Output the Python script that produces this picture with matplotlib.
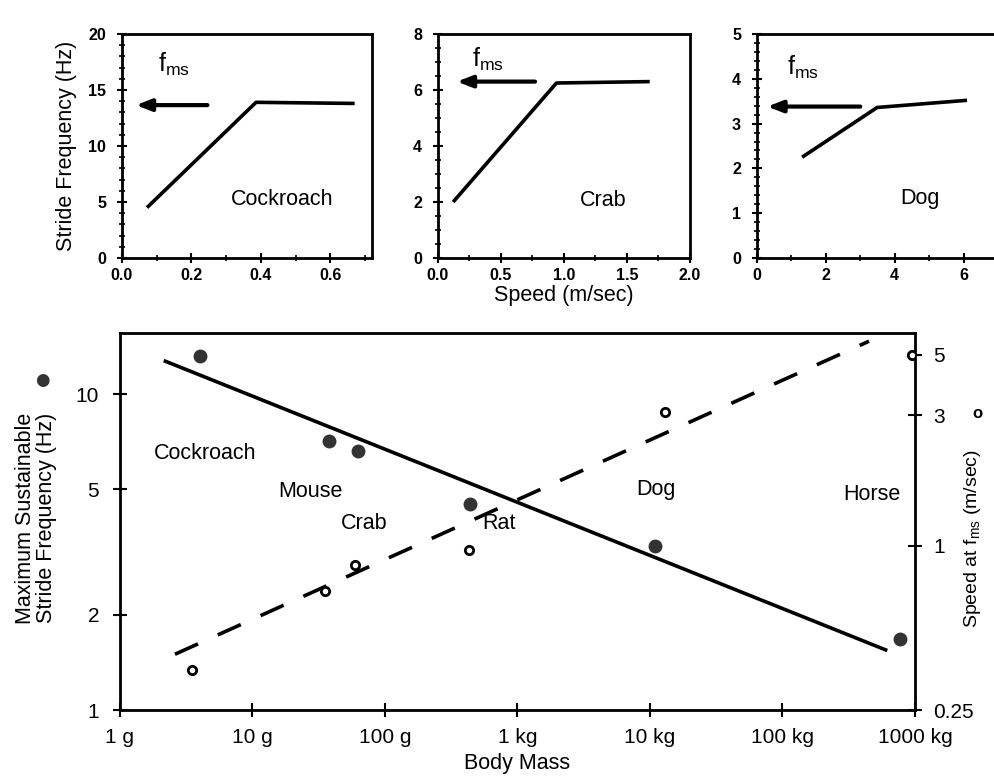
import numpy as np
import matplotlib.pyplot as plt
from matplotlib.ticker import FixedLocator, MultipleLocator, NullLocator, NullFormatter

plt.rcParams['font.family'] = ['Liberation Sans', 'DejaVu Sans']
plt.rcParams['mathtext.default'] = 'regular'

# top panels: stride frequency vs speed (piecewise lines)
roach_speed = [0.072, 0.386, 0.67]
roach_freq = [4.5, 13.9, 13.8]
roach_fms = 13.65

crab_speed = [0.12, 0.94, 1.68]
crab_freq = [2.0, 6.25, 6.3]
crab_fms = 6.3

dog_speed = [1.31, 3.49, 6.1]
dog_freq = [2.25, 3.36, 3.52]
dog_fms = 3.38

# bottom panel: body mass (g), max sustainable stride freq (Hz), speed at fms (m/s)
animals = ['Cockroach', 'Mouse', 'Crab', 'Rat', 'Dog', 'Horse']
mass_freq = [4.0, 38, 63, 435, 11000, 770000]
fms = [13.2, 7.1, 6.6, 4.5, 3.3, 1.68]
mass_speed = [3.5, 35, 59, 430, 13000, 950000]
speed = [0.35, 0.68, 0.85, 0.96, 3.08, 5.0]

# fitted lines (end points)
fit_freq_mass = [2.2, 600000]
fit_freq = [12.7, 1.55]
fit_speed_mass = [2.6, 450000]
fit_speed = [0.40, 5.6]

# label positions (mass, freq)
label_mass = [4.4, 27.5, 70, 720, 11000, 470000]
label_freq = [6.5, 4.9, 3.9, 3.9, 5.0, 4.8]

mass_ticks = [1, 10, 100, 1e3, 1e4, 1e5, 1e6]
mass_labels = ['1 g', '10 g', '100 g', '1 kg', '10 kg', '100 kg', '1000 kg']

W, H = 995, 784
fig = plt.figure(figsize=(W / 100, H / 100), dpi=100)


def px_axes(left, top, right, bottom):
    return fig.add_axes([left / W, 1 - bottom / H, (right - left) / W, (bottom - top) / H])


def style_top(ax):
    for s in ax.spines.values():
        s.set_linewidth(2)
    ax.tick_params(which='major', direction='inout', length=7, width=1.5, labelsize=11.5)
    ax.tick_params(which='minor', direction='inout', length=4, width=1.2)
    ax.tick_params(axis='y', pad=8)
    for lab in ax.get_xticklabels() + ax.get_yticklabels():
        lab.set_fontweight('bold')


def draw_top(ax, x, y, fms_val, xtail, xhead, name, name_pos, f_pos):
    ax.plot(x, y, color='black', lw=2.6, solid_capstyle='butt')
    ax.annotate('', xy=(xhead, fms_val), xytext=(xtail, fms_val),
                arrowprops=dict(arrowstyle='-|>,head_length=0.9,head_width=0.35',
                                color='black', lw=3, shrinkA=0, shrinkB=0))
    ax.text(name_pos[0], name_pos[1], name, fontsize=15.5, ha='center', va='center')
    ax.text(f_pos[0], f_pos[1], r'$f_{ms}$', fontsize=18, ha='center', va='center')


# panel 1: cockroach
ax1 = px_axes(122, 34, 372, 258)
ax1.set_xlim(0, 0.72)
ax1.set_ylim(0, 20)
ax1.xaxis.set_major_locator(FixedLocator([0.0, 0.2, 0.4, 0.6]))
ax1.xaxis.set_minor_locator(MultipleLocator(0.1))
ax1.yaxis.set_major_locator(MultipleLocator(5))
ax1.yaxis.set_minor_locator(MultipleLocator(1))
ax1.set_xticklabels(['0.0', '0.2', '0.4', '0.6'])
draw_top(ax1, roach_speed, roach_freq, roach_fms, 0.246, 0.04, 'Cockroach', (0.46, 5.2), (0.15, 17.3))
ax1.set_ylabel('Stride Frequency (Hz)', fontsize=15.5, labelpad=8)
style_top(ax1)

# panel 2: crab
ax2 = px_axes(438, 34, 690, 258)
ax2.set_xlim(0, 2.0)
ax2.set_ylim(0, 8)
ax2.xaxis.set_major_locator(MultipleLocator(0.5))
ax2.xaxis.set_minor_locator(MultipleLocator(0.25))
ax2.yaxis.set_major_locator(MultipleLocator(2))
ax2.yaxis.set_minor_locator(MultipleLocator(0.5))
draw_top(ax2, crab_speed, crab_freq, crab_fms, 0.77, 0.15, 'Crab', (1.31, 2.06), (0.40, 7.1))
ax2.set_xlabel('Speed (m/sec)', fontsize=15.5, labelpad=2)
style_top(ax2)

# panel 3: dog
ax3 = px_axes(757, 34, 998, 258)
ax3.set_xlim(0, 7)
ax3.set_ylim(0, 5)
ax3.xaxis.set_major_locator(MultipleLocator(2))
ax3.xaxis.set_minor_locator(MultipleLocator(1))
ax3.yaxis.set_major_locator(MultipleLocator(1))
ax3.yaxis.set_minor_locator(MultipleLocator(0.2))
draw_top(ax3, dog_speed, dog_freq, dog_fms, 3.0, 0.3, 'Dog', (4.74, 1.32), (1.34, 4.25))
style_top(ax3)

# bottom panel
ax = px_axes(120, 333, 915, 710)
ax.set_xscale('log')
ax.set_yscale('log')
ax.set_xlim(1, 1e6)
ax.set_ylim(1, 15.6)
ax.xaxis.set_major_locator(FixedLocator(mass_ticks))
ax.xaxis.set_minor_locator(NullLocator())
ax.set_xticklabels(mass_labels)
ax.yaxis.set_major_locator(FixedLocator([1, 2, 5, 10]))
ax.yaxis.set_minor_locator(NullLocator())
ax.yaxis.set_minor_formatter(NullFormatter())
ax.set_yticklabels(['1', '2', '5', '10'])
for s in ax.spines.values():
    s.set_linewidth(2)
ax.tick_params(direction='inout', length=10, width=1.5, labelsize=15, pad=10)
ax.tick_params(axis='x', pad=8)

ax.plot(fit_freq_mass, fit_freq, color='black', lw=2.6)
ax.plot(mass_freq, fms, 'o', color='#333333', ms=9)
for name, mx, fy in zip(animals, label_mass, label_freq):
    ax.text(mx, fy, name, fontsize=15.5, ha='center', va='center')
ax.set_xlabel('Body Mass', fontsize=15.5, labelpad=4)

axr = ax.twinx()
axr.set_yscale('log')
axr.set_ylim(0.25, 6)
axr.yaxis.set_major_locator(FixedLocator([0.25, 1, 3, 5]))
axr.yaxis.set_minor_locator(NullLocator())
axr.yaxis.set_minor_formatter(NullFormatter())
axr.set_yticklabels(['0.25', '1', '3', '5'])
axr.tick_params(direction='inout', length=10, width=1.5, labelsize=15, pad=8)
axr.plot(fit_speed_mass, fit_speed, color='black', lw=2.6, dashes=(7, 6))
axr.plot(mass_speed, speed, 'o', mfc='white', mec='black', mew=2, ms=6)

# axis titles with their marker keys
fig.text(36 / W, 1 - 518 / H, 'Maximum Sustainable\nStride Frequency (Hz)', rotation=90,
         fontsize=15.5, ha='center', va='center', linespacing=1.0)
fig.text(42 / W, 1 - 380 / H, '\u25CF', fontsize=12, color='#333333', ha='center', va='center',
         family='DejaVu Sans')
fig.text(973 / W, 1 - 539 / H, r'Speed at $f_{ms}$ (m/sec)', rotation=90,
         fontsize=14, ha='center', va='center')
fig.text(977 / W, 1 - 413 / H, 'o', fontsize=12, fontweight='bold', ha='center', va='center')

fig.savefig('out.png', dpi=100)
